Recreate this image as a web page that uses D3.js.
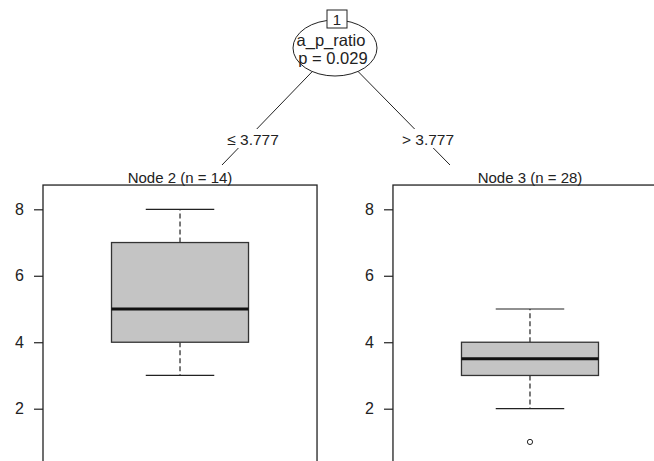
<!DOCTYPE html>
<html>
<head>
<meta charset="utf-8">
<script src="https://cdn.jsdelivr.net/npm/d3@7"></script>
<style>
  body { margin: 0; background: #fff; }
  text { font-family: "Liberation Sans", Arial, sans-serif; fill: #222; }
</style>
</head>
<body>
<div id="vis"></div>
<script>
// data
var nodes = ["Node 2 (n = 14)", "Node 3 (n = 28)"];
var lowWhisker = [3, 2];
var q1 = [4, 3];
var medians = [5, 3.5];
var q3 = [7, 4];
var highWhisker = [8, 5];
var outliers = [[], [1]];
var yTicks = [2, 4, 6, 8];
var splitVar = "a_p_ratio";
var pLabel = "p = 0.029";
var splitLabels = ["\u2264 3.777", "> 3.777"];

var width = 654, height = 461;

var svg = d3.select("#vis").append("svg")
    .attr("width", width)
    .attr("height", height);

// panels
var x = d3.scaleBand()
    .domain(nodes)
    .range([43, 667])
    .paddingInner(0.217);

var y = d3.scaleLinear()
    .domain([2, 8])
    .range([408.7, 209.3]);

var panelTop = y(8.73);

/* ****** tree part ****** */
var root = { x: 335, y: 48 };
var edgeEnds = [{ x: 222, y: 165 }, { x: 450, y: 165 }];

svg.selectAll(".edge")
    .data(edgeEnds)
    .enter().append("line")
    .attr("class", "edge")
    .attr("x1", root.x).attr("y1", root.y)
    .attr("x2", function(d) { return d.x; })
    .attr("y2", function(d) { return d.y; })
    .attr("stroke", "#222")
    .attr("stroke-width", 1);

// edge labels with white background
var lab = svg.selectAll(".elab")
    .data(splitLabels)
    .enter().append("g")
    .attr("class", "elab")
    .attr("transform", function(d, i) {
        return "translate(" + (i == 0 ? 253 : 428) + ",145)";
    });
lab.append("rect")
    .attr("x", -28).attr("y", -16)
    .attr("width", 56).attr("height", 19)
    .attr("fill", "#fff");
lab.append("text")
    .attr("text-anchor", "middle")
    .style("font-size", "15.5px")
    .text(function(d) { return d; });

svg.append("ellipse")
    .attr("cx", root.x).attr("cy", root.y)
    .attr("rx", 42).attr("ry", 28)
    .attr("fill", "#fff")
    .attr("stroke", "#222")
    .attr("stroke-width", 1);

svg.append("text")
    .attr("x", root.x - 4).attr("y", 46)
    .attr("text-anchor", "middle")
    .style("font-size", "16.5px")
    .text(splitVar);
svg.append("text")
    .attr("x", root.x - 2).attr("y", 64)
    .attr("text-anchor", "middle")
    .style("font-size", "16.5px")
    .text(pLabel);

svg.append("rect")
    .attr("x", 327).attr("y", 10)
    .attr("width", 20).attr("height", 18)
    .attr("fill", "#fff")
    .attr("stroke", "#222");
svg.append("text")
    .attr("x", 337).attr("y", 25)
    .attr("text-anchor", "middle")
    .style("font-size", "15px")
    .text("1");

/* ****** terminal panels ****** */
var panel = svg.selectAll(".panel")
    .data(nodes)
    .enter().append("g")
    .attr("class", "panel");

panel.append("text")
    .attr("x", function(d) { return x(d) + x.bandwidth() / 2; })
    .attr("y", panelTop - 2.5)
    .attr("text-anchor", "middle")
    .style("font-size", "15px")
    .text(function(d) { return d; });

panel.append("rect")
    .attr("x", function(d) { return x(d); })
    .attr("y", panelTop)
    .attr("width", x.bandwidth())
    .attr("height", height + 20 - panelTop)
    .attr("fill", "none")
    .attr("stroke", "#222")
    .attr("stroke-width", 1.3);

panel.each(function(d, i) {
    var g = d3.select(this);
    var cx = x(d) + x.bandwidth() / 2;
    var bw = x.bandwidth() / 2;
    var cw = x.bandwidth() / 4;

    var axis = d3.axisLeft(y).tickValues(yTicks).tickFormat(d3.format("d"))
        .tickSize(9).tickPadding(10);
    var ax = g.append("g")
        .attr("transform", "translate(" + x(d) + ",0)")
        .call(axis);
    ax.select(".domain").remove();
    ax.selectAll(".tick line").attr("stroke", "#222").attr("stroke-width", 1.2);
    ax.selectAll(".tick text")
        .style("font-size", "16px")
        .style("font-family", "Liberation Sans, Arial, sans-serif")
        .attr("fill", "#222");

    // whiskers
    g.append("line")
        .attr("x1", cx).attr("x2", cx)
        .attr("y1", y(q3[i])).attr("y2", y(highWhisker[i]))
        .attr("stroke", "#222").attr("stroke-dasharray", "5,3").attr("stroke-width", 1.2);
    g.append("line")
        .attr("x1", cx).attr("x2", cx)
        .attr("y1", y(q1[i])).attr("y2", y(lowWhisker[i]))
        .attr("stroke", "#222").attr("stroke-dasharray", "5,3").attr("stroke-width", 1.2);
    [lowWhisker[i], highWhisker[i]].forEach(function(v) {
        g.append("line")
            .attr("x1", cx - cw / 2).attr("x2", cx + cw / 2)
            .attr("y1", y(v)).attr("y2", y(v))
            .attr("stroke", "#222").attr("stroke-width", 1.2);
    });

    // box
    g.append("rect")
        .attr("x", cx - bw / 2)
        .attr("y", y(q3[i]))
        .attr("width", bw)
        .attr("height", y(q1[i]) - y(q3[i]))
        .attr("fill", "#c4c4c4")
        .attr("stroke", "#333")
        .attr("stroke-width", 1.3);
    g.append("line")
        .attr("x1", cx - bw / 2).attr("x2", cx + bw / 2)
        .attr("y1", y(medians[i])).attr("y2", y(medians[i]))
        .attr("stroke", "#111").attr("stroke-width", 3);

    g.selectAll(".out")
        .data(outliers[i])
        .enter().append("circle")
        .attr("cx", cx)
        .attr("cy", function(v) { return y(v); })
        .attr("r", 2.6)
        .attr("fill", "#fff")
        .attr("stroke", "#222")
        .attr("stroke-width", 1);
});
</script>
</body>
</html>
